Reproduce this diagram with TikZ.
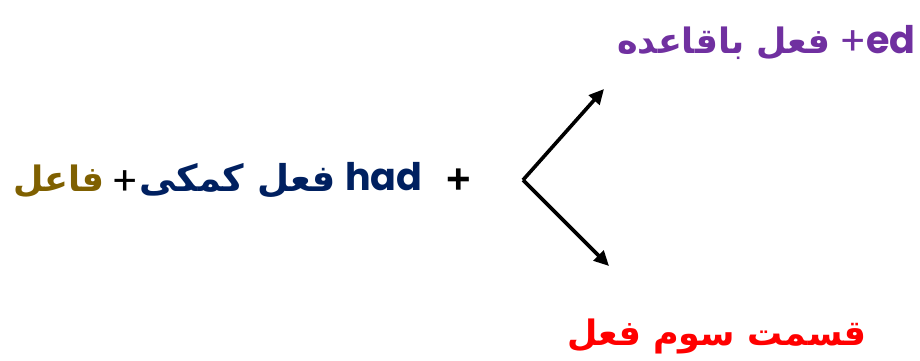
\documentclass[tikz,border=0pt]{standalone}
\usepackage{fontspec}
\usetikzlibrary{arrows.meta}
\TeXXeTstate=1
\newfontfamily\fafont[Script=Arabic]{DejaVu Sans}
\newfontfamily\latfont{Poppins}
\newfontfamily\plusfont{Liberation Sans}
\definecolor{subjgold}{HTML}{7F6000}
\definecolor{auxnavy}{HTML}{002060}
\definecolor{regpurple}{HTML}{7030A0}
\definecolor{ppred}{HTML}{FF0000}
\tikzset{
  fa/.style={font=\fafont\bfseries\fontsize{35}{42}\selectfont, inner sep=0pt, anchor=base west},
  lat/.style={font=\latfont\bfseries\fontsize{38}{46}\selectfont, inner sep=0pt, anchor=base west},
  plusthin/.style={font=\latfont\fontsize{40}{48}\selectfont, inner sep=0pt, anchor=base west},
  plusbold/.style={font=\plusfont\bfseries\fontsize{42}{50}\selectfont, inner sep=0pt, anchor=base west},
  fork/.style={line width=3.6pt, -{Triangle[length=15pt,width=14pt]}}
}
\begin{document}
\begin{tikzpicture}[x=1pt, y=1pt]
  \useasboundingbox (0,0) rectangle (920,360);
  % had-vorm links
  \node[fa, text=subjgold] (subj) at (13,169) {\beginR فاعل\endR};
  \node[plusthin] (plusa) at (111,165) {+};
  \node[fa, text=auxnavy, font=\fafont\bfseries\fontsize{37}{44}\selectfont] (aux) at (139,169) {\beginR فعل کمکی\endR};
  \node[lat, text=auxnavy] (had) at (345,170) {had};
  \node[plusbold] (plusb) at (446,167) {+};
  % twee takken
  \coordinate (split) at (523,180);
  \coordinate (uptip) at (604,271);
  \coordinate (downtip) at (609,94);
  \draw[fork] (split) -- (uptip);
  \draw[fork] (split) -- (downtip);
  % boven: regelmatig
  \node[fa, text=regpurple] (regular) at (617,307) {\beginR فعل باقاعده\endR};
  \node[plusthin, text=regpurple] (plused) at (839,305) {+};
  \node[lat, text=regpurple] (ed) at (866,307) {ed};
  % onder: voltooid deelwoord
  \node[fa, text=ppred] (third) at (567,15) {\beginR قسمت سوم فعل\endR};
\end{tikzpicture}
\end{document}
